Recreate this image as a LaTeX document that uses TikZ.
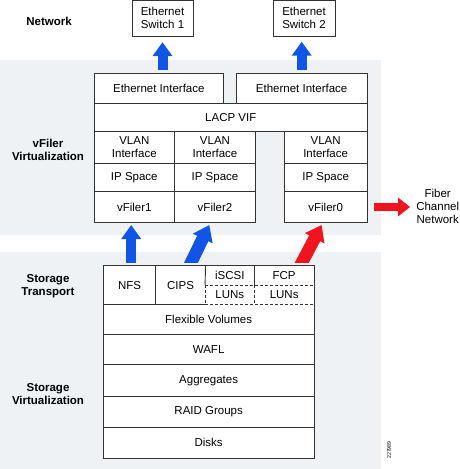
\documentclass[tikz,border=0pt]{standalone}
\usepackage{fontspec}
\setmainfont{Liberation Sans}
\usetikzlibrary{arrows.meta}
\definecolor{bgray}{HTML}{EEF2F5}
\definecolor{ablue}{HTML}{1155E6}
\definecolor{ared}{HTML}{F0141E}
\definecolor{lcol}{HTML}{333333}
\begin{document}
\begin{tikzpicture}[x=1pt,y=-1pt,
  every node/.style={font=\fontsize{11.5}{13}\selectfont, align=center, inner sep=0pt},
  slot/.style 2 args={fill=white, minimum width=#1, minimum height=#2},
  cell/.style 2 args={slot={#1}{#2}, draw=lcol, line width=0.9pt},
  frame/.style={draw=lcol, line width=0.9pt},
  dashline/.style={draw=lcol, line width=0.9pt, dash pattern=on 3pt off 2pt},
  lbl/.style={font=\fontsize{11.5}{13}\selectfont\bfseries},
  bluearrow/.style={draw=ablue, line width=10pt, -{Triangle[length=14pt,width=19pt]}},
  diagblue/.style={draw=ablue, line width=12.5pt, -{Triangle[length=15pt,width=21pt]}},
  diagred/.style={draw=ared, line width=12.5pt, -{Triangle[length=15pt,width=21pt]}},
  redarrow/.style={draw=ared, line width=8.3pt, -{Triangle[length=12pt,width=18pt]}}
]
\useasboundingbox (0,0) rectangle (460,469);
% backgrounds
\fill[bgray] (0,60) rectangle (381,235);
\fill[bgray] (0,252) rectangle (381,469);

% labels
\node[lbl] (lnet) at (49,21) {Network};
\node[lbl] (lvf) at (48,150.3) {vFiler\\Virtualization};
\node[lbl] (lst) at (48,285.7) {Storage\\Transport};
\node[lbl] (lsv) at (48,393.7) {Storage\\Virtualization};

% network switches
\node[cell={61pt}{35.5pt}] (sw1) at (162.5,18.25) {Ethernet\\Switch 1};
\node[cell={62pt}{35.5pt}] (sw2) at (304,18.25) {Ethernet\\Switch 2};

% vFiler virtualization
\node[cell={129pt}{30pt}] (eth1) at (158.8,88.3) {Ethernet Interface};
\node[cell={131.3pt}{30pt}] (eth2) at (301.65,88.3) {Ethernet Interface};
\node[cell={273pt}{28.4pt}] (lacp) at (230.8,117.5) {LACP VIF};
\node[cell={80pt}{31.6pt}] (vlan1) at (134.3,147.5) {VLAN\\Interface};
\node[cell={80pt}{28.4pt}] (ip1) at (134.3,177.5) {IP Space};
\node[cell={80pt}{30.6pt}] (vf1) at (134.3,207) {vFiler1};
\node[cell={81.4pt}{31.6pt}] (vlan2) at (215,147.5) {VLAN\\Interface};
\node[cell={81.4pt}{28.4pt}] (ip2) at (215,177.5) {IP Space};
\node[cell={81.4pt}{30.6pt}] (vf2) at (215,207) {vFiler2};
\node[cell={83.3pt}{31.6pt}] (vlan0) at (325.65,147.5) {VLAN\\Interface};
\node[cell={83.3pt}{28.4pt}] (ip0) at (325.65,177.5) {IP Space};
\node[cell={83.3pt}{30.6pt}] (vf0) at (325.65,207) {vFiler0};

\node (fcn) at (437.7,206.3) {Fiber\\Channel\\Network};

% storage stack
\node[slot={52.4pt}{38.3pt}] (nfs) at (129.5,285.15) {NFS};
\node[slot={49.6pt}{38.3pt}] (cips) at (180.5,285.15) {CIPS};
\node[slot={49pt}{19pt}] (iscsi) at (229.8,275.5) {iSCSI};
\node[slot={59.7pt}{19pt}] (fcp) at (284.15,275.5) {FCP};
\node[slot={49pt}{19.3pt}] (luns1) at (229.8,294.65) {LUNs};
\node[slot={59.7pt}{19.3pt}] (luns2) at (284.15,294.65) {LUNs};
\node[slot={210.7pt}{29.7pt}] (fv) at (208.65,319.15) {Flexible Volumes};
\node[cell={210.7pt}{30.3pt}] (wafl) at (208.65,349.15) {WAFL};
\node[cell={210.7pt}{32.4pt}] (aggr) at (208.65,380.5) {Aggregates};
\node[cell={210.7pt}{30.6pt}] (raid) at (208.65,412) {RAID Groups};
\node[cell={210.7pt}{31pt}] (disks) at (208.65,442.8) {Disks};

\draw[frame] (nfs.south west) -- (nfs.north west) -- (fcp.north east) -- (fv.south east) -- (fv.south west) -- cycle;
\draw[frame] (nfs.north east) -- (nfs.south east);
\draw[frame] (nfs.south west) -- (cips.south east);
\draw[frame] (cips.north east) -- (iscsi.south west);
\draw[frame] (iscsi.north east) -- (iscsi.south east);
\draw[dashline] (iscsi.south west) -- (fcp.south east);
\draw[dashline] (luns1.north west) -- (luns1.south west) -- (luns2.south east);
\draw[dashline] (luns1.north east) -- (luns1.south east);

% arrows to switches
\draw[bluearrow, shorten <=3.3pt, shorten >=5.7pt] (sw1.south |- eth1.north) -- (sw1.south);
\coordinate (sw2base) at (301.7,70);
\coordinate (sw2tip) at (301.7,41.7);
\draw[bluearrow] (sw2base) -- (sw2tip);

% arrows from storage transport
\coordinate (nfsbase) at (131.2,262.7);
\coordinate (nfstip) at (131.2,225);
\draw[bluearrow] (nfsbase) -- (nfstip);
\begin{scope}
  \clip (0,0) rectangle (460,262.7);
  \coordinate (cipsbase) at (186.5,272);
  \coordinate (cipstip) at (209.3,225);
  \draw[diagblue] (cipsbase) -- (cipstip);
  \coordinate (fcpbase) at (296.9,272);
  \coordinate (fcptip) at (321.7,225);
  \draw[diagred] (fcpbase) -- (fcptip);
\end{scope}

% arrow to fibre channel network
\draw[redarrow, shorten <=6pt, shorten >=6pt] (vf0.east) -- (vf0.east -| fcn.west);

\node[rotate=90, font=\fontsize{5.2}{6}\selectfont] (fig) at (389,450) {227989};
\end{tikzpicture}
\end{document}
